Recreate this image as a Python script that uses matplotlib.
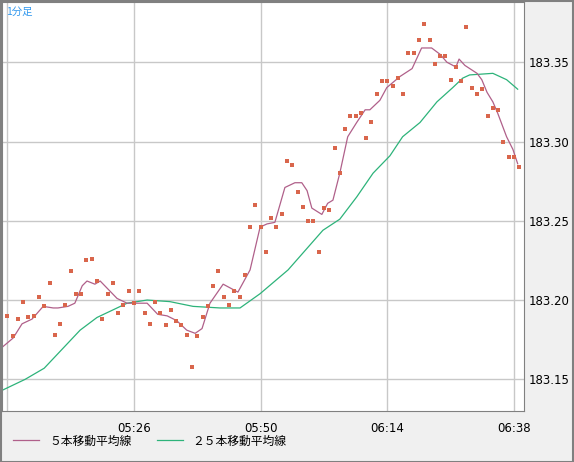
import matplotlib
matplotlib.use('Agg')
import matplotlib.pyplot as plt
import matplotlib.ticker as tkr
from matplotlib.patches import Rectangle

plt.rcParams['font.family'] = ['Noto Sans CJK JP', 'DejaVu Sans']

# DATA (minutes after 05:00, price)
start_minute = 2
prices = [
    183.190, 183.177, 183.188, 183.199, 183.189, 183.190, 183.202, 183.196, 183.211, 183.178,
    183.185, 183.197, 183.218, 183.204, 183.204, 183.225, 183.226, 183.212, 183.188, 183.204,
    183.211, 183.192, 183.197, 183.206, 183.198, 183.206, 183.192, 183.185, 183.199, 183.192,
    183.184, 183.194, 183.187, 183.184, 183.178, 183.158, 183.177, 183.189, 183.196, 183.209,
    183.218, 183.202, 183.197, 183.206, 183.202, 183.216,
    183.246, 183.260, 183.246, 183.230, 183.252, 183.246, 183.254, 183.288, 183.285, 183.268,
    183.259, 183.250, 183.250, 183.230, 183.258, 183.257, 183.296, 183.280, 183.308, 183.316,
    183.316, 183.318, 183.302, 183.312,
    183.330, 183.338, 183.338, 183.335, 183.340, 183.330, 183.356, 183.356, 183.364, 183.374,
    183.364, 183.349, 183.354, 183.354, 183.339, 183.347, 183.338, 183.372, 183.334, 183.330,
    183.333, 183.316, 183.321, 183.320, 183.300, 183.290, 183.290, 183.284,
]
minutes = list(range(start_minute, start_minute + len(prices)))

ma5_t = [0.6, 3.1, 4.8, 6.7, 8.8, 10.7, 11.6, 13.5, 14.8, 16.2, 17.1, 18.6, 19.6, 22.8,
         24.7, 26.6, 28.5, 30.5, 32.3, 34.1, 36.0, 37.6, 38.9, 40.4, 42.9, 45.7, 48.0,
         49.9, 51.2, 52.7, 54.6, 56.5, 57.8, 58.8, 59.7, 61.6, 62.7, 63.7, 65.0, 66.5,
         68.2, 69.8, 70.7, 72.6, 73.9, 76.4, 78.7, 80.5, 82.4, 84.0, 85.3, 87.0, 87.6,
         88.7, 91.0, 91.9, 92.9, 94.0, 94.9, 96.6, 97.8, 98.7]
ma5_v = [183.169, 183.176, 183.185, 183.188, 183.196, 183.195, 183.195, 183.196, 183.198,
         183.209, 183.212, 183.210, 183.212, 183.201, 183.198, 183.198, 183.198, 183.191,
         183.190, 183.187, 183.181, 183.179, 183.182, 183.198, 183.210, 183.205, 183.219,
         183.246, 183.248, 183.249, 183.271, 183.274, 183.274, 183.269, 183.258, 183.254,
         183.261, 183.263, 183.280, 183.303, 183.312, 183.320, 183.320, 183.326, 183.334,
         183.341, 183.346, 183.359, 183.359, 183.355, 183.350, 183.347, 183.352, 183.348,
         183.343, 183.339, 183.331, 183.325, 183.318, 183.303, 183.295, 183.286]

ma25_t = [1.0, 5.4, 9.0, 15.8, 19.0, 24.7, 28.5, 32.8, 37.2, 42.3, 46.1, 49.9, 55.2, 61.8,
          65.0, 68.2, 71.3, 74.5, 76.9, 80.2, 83.4, 86.4, 88.3, 89.6, 94.0, 96.6, 98.7]
ma25_v = [183.143, 183.150, 183.157, 183.181, 183.189, 183.198, 183.200, 183.199, 183.196,
          183.195, 183.195, 183.204, 183.219, 183.244, 183.251, 183.265, 183.280, 183.291,
          183.303, 183.312, 183.325, 183.334, 183.340, 183.342, 183.343, 183.339, 183.333]

tick_minutes = [26, 50, 74, 98]
tick_labels = ['05:26', '05:50', '06:14', '06:38']
y_ticks = [183.15, 183.20, 183.25, 183.30, 183.35]

# PLOT
fig = plt.figure(figsize=(5.74, 4.62), dpi=100, facecolor='#f0f0f0')
fig.patches.append(Rectangle((0.001, 0.001), 0.997, 0.997, transform=fig.transFigure,
                             fill=False, edgecolor='#808080', linewidth=1.5))
ax = fig.add_axes([2 / 574, 1 - 411 / 462, 522 / 574, 409 / 462])
ax.set_facecolor('white')

ax.plot(ma25_t, ma25_v, color='#2db37a', linewidth=0.9, label='２５本移動平均線')
ax.plot(ma5_t, ma5_v, color='#b0608a', linewidth=0.9, label='５本移動平均線')
ax.plot(minutes, prices, 's', color='#d9664c', markersize=2.8, markeredgewidth=0)

ax.set_xlim(1.0, 99.9)
ax.set_ylim(183.130, 183.388)
ax.set_xticks(tick_minutes + [2])
ax.set_xticklabels(tick_labels + [''])
ax.set_yticks(y_ticks)
ax.yaxis.set_major_formatter(tkr.FormatStrFormatter('%.2f'))
ax.yaxis.tick_right()
ax.tick_params(length=0, labelsize=8.5, colors='black')
ax.tick_params(axis='x', pad=8)
for lbl in ax.get_xticklabels() + ax.get_yticklabels():
    lbl.set_family('DejaVu Sans')
ax.grid(True, color='#c8c8c8', linewidth=1)
for sp in ax.spines.values():
    sp.set_color('#808080')

fig.text(6 / 574, 1 - 12 / 462, '1分足', color='#3399ee', fontsize=7.5, va='center')

handles, labels = ax.get_legend_handles_labels()
fig.legend(handles[::-1], labels[::-1], loc='center left', bbox_to_anchor=(0.005, 1 - 441 / 462),
           ncol=2, frameon=False, fontsize=8.5, handlelength=2.2, columnspacing=2.2)

fig.savefig('out.png', dpi=100, facecolor=fig.get_facecolor())
